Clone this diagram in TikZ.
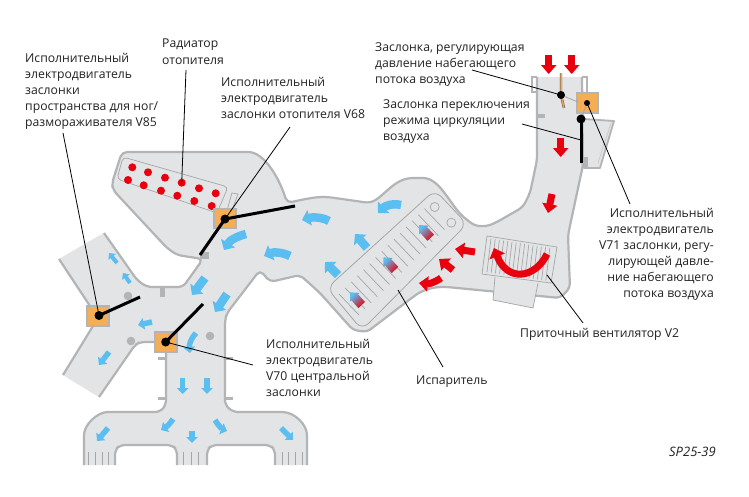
\documentclass[tikz,border=0pt]{standalone}
\usepackage{fontspec}
\setmainfont{Open Sans}
\usetikzlibrary{arrows.meta}
\definecolor{duct}{HTML}{E3E4E6}
\definecolor{edge}{HTML}{B2B4B6}
\definecolor{finc}{HTML}{A4A6A8}
\definecolor{org}{HTML}{F6AE55}
\definecolor{rd}{HTML}{E8000F}
\definecolor{bl}{HTML}{5BBEF0}
\definecolor{gmid}{HTML}{E0B0A8}
\definecolor{txt}{HTML}{222222}
\tikzset{
 lab/.style={inner sep=0pt,font=\fontsize{12.2}{16.1}\selectfont,text=txt,align=left,anchor=north west},
 labr/.style={lab,align=right,anchor=north east},
 leader/.style={draw=black,line width=0.8pt},
 lever/.style={draw=black,line width=3pt},
 pivot/.style={fill=black},
 boxo/.style={fill=org,draw=edge,line width=1.2pt},
 wall/.style={draw=edge,line width=2.2pt,rounded corners=5pt,line join=round},
 fin/.style={draw=finc,line width=0.7pt},
 redar/.style={draw=rd,line width=7pt,-{Triangle[width=15pt,length=9pt]}},
 blbig/.style={draw=bl,line width=8.5pt,-{Triangle[width=16pt,length=8pt]}},
 blmid/.style={draw=bl,line width=5.5pt,-{Triangle[width=11.5pt,length=6pt]}},
 blsm/.style={draw=bl,line width=4pt,-{Triangle[width=9pt,length=5pt]}},
 gradar/.style={top color=bl,middle color=gmid,bottom color=rd,shading angle=45},
}
\def\segA{(104,233) -- (137,280) -- (147,287) -- (183,287) -- (203,259) -- (177,255) -- (167,248) -- (113,190) -- (112,183) -- (122,152) -- (243,152) .. controls (265,152) and (280,180) .. (287,203) .. controls (305,199) and (315,197) .. (328,197) -- (370,203) .. controls (385,195) and (395,178) .. (418,178) .. controls (440,178) and (450,205) .. (467,220) .. controls (478,228) and (488,226) .. (497,222) -- (523,207) -- (530,193) -- (537,160) -- (537,77)}
\def\segB{(582,77) -- (583,165) -- (568,235) -- (570,288) -- (560,298) -- (447,287) .. controls (430,287) and (420,292) .. (413,297) -- (367,332) -- (353,330) -- (320,293) -- (300,275) -- (270,282) -- (260,270) -- (227,313) -- (225,320) -- (225,405) -- (233,412) -- (277,412) .. controls (295,412) and (307,425) .. (307,440) -- (307,465)}
\def\segC{(275,465) -- (275,450) -- (270,445) -- (212,445) -- (207,450) -- (207,465)}
\def\segD{(177,465) -- (177,450) -- (172,445) -- (120,445) -- (115,450) -- (115,465)}
\def\segE{(84,465) -- (84,440) .. controls (84,425) and (97,412) .. (113,412) -- (160,412) -- (166,405) -- (166,342) -- (140,342) -- (135,345) -- (99,397)}
\def\segF{(63,375) -- (93,326)}
\def\segG{(90,306) -- (59,259)}
\begin{document}
\begin{tikzpicture}[x=1pt,y=-1pt]
\useasboundingbox (0,0) rectangle (749,496);
\fill[white] (0,0) rectangle (749,496);
% duct fill
\fill[duct,rounded corners=5pt] \segA -- \segB -- \segC -- \segD -- \segE -- (63,375) -- (93,326) -- (90,306) -- (59,259) -- cycle;
% sharp open ends
\fill[duct] (59,259) -- (104,233) -- (125,262) -- (90,306) -- cycle;
\fill[duct] (63,375) -- (99,397) -- (115,372) -- (86,345) -- cycle;
\fill[duct] (537,77) rectangle (582,90);
\fill[duct] (84,455) rectangle (115,465);
\fill[duct] (177,455) rectangle (207,465);
\fill[duct] (275,455) rectangle (307,465);
% side box of the upper duct
\filldraw[fill=duct,draw=edge,line width=1.8pt,line join=round] (584,119) -- (614,121) -- (600,168) -- (584,168) -- (584,157);
\draw[draw=edge!70,line width=0.8pt] (611,123) -- (598,163);
\fill[edge] (583,157) rectangle (588,168);
% walls
\draw[wall] \segA;
\draw[wall] \segB;
\draw[wall] \segC;
\draw[wall] \segD;
\draw[wall] \segE;
\draw[wall] \segF;
\draw[wall] \segG;
% lips and tabs
\draw[edge,line width=1.2pt] (537,92) -- (532,92) -- (532,77) -- (537,77);
\draw[edge,line width=1.2pt] (582,77) -- (587,77) -- (587,93);
\fill[edge] (537,114) rectangle (545,118);
\fill[edge] (200,252) rectangle (209,259);
\fill[edge] (160,288) rectangle (165,297);
\foreach \x/\y in {158/357,158/397,225/357,225/397}
  \fill[edge] (\x,\y) rectangle ++(8,3);
\foreach \x/\y in {128/296,131/341,210/336}
  \fill[edge] (\x,\y) circle (4.3);
% outlet grilles
\foreach \x in {88,95,102,108,183,191,198,282,288,295,302}
  \draw[finc,line width=0.7pt] (\x,452) -- (\x,465);
% radiator
\draw[finc,line width=0.7pt,rounded corners=4pt] (123,157) -- (228,187) -- (217,213) -- (117,179) -- cycle;
\draw[finc,line width=0.7pt] (232,193) -- (238,194) -- (230,215) -- (226,214) -- cycle;
\foreach \x/\y in {132.3/167.3,148/172.3,165/177.7,181.7/182.7,199/188.3,215.7/193.3,128/180,143.7/185.3,161/190.7,177.3/195.7,194.3/201,211.7/206}
  \fill[rd] (\x,\y) circle (4);
% evaporator
\draw[finc,line width=0.8pt,rounded corners=9pt] (435,190) -- (467,224) -- (362,330) -- (327,288) -- cycle;
\foreach \t in {0,...,14}
  \draw[fin] ({339+\t*6.1},{294-\t*6.1}) -- ++(20,21);
\draw[finc,fill=duct,line width=0.7pt] (434.7,207) circle (4.5);
\draw[finc,fill=duct,line width=0.7pt] (451.3,222.7) circle (4.5);
% gradient arrows
\foreach \a/\b in {430.7/237.7,395/270,361.7/305}{
  \shade[gradar] (\a+3.3,\b-3.1) -- (\a-3.7,\b-10.7) -- (\a-2.3,\b-12.1) -- (\a-11.7,\b-12.7) -- (\a-11.7,\b-3.3) -- (\a-10.3,\b-4.7) -- (\a-3.3,\b+3.1) -- cycle;}
% fan
\draw[finc,fill=duct,line width=0.7pt] (495,277) -- (493,300) -- (533,308) -- (538,283);
\draw[finc,fill=duct,line width=0.7pt] (487,236) -- (557,247) -- (551,283) -- (482,274) -- cycle;
\foreach \t in {0,...,14}
  \draw[fin] ({491+\t*4.2},{238.5+\t*0.68}) -- ({487+\t*4.2},{272+\t*0.62});
% red arrows
\draw[redar] (548.7,55) -- (548.7,74);
\draw[redar] (571.7,55) -- (571.7,74);
\draw[redar] (560.7,138) -- (560.7,157);
\draw[redar] (552,194) -- (548,213);
\draw[redar] (475,252) -- (455,249);
\draw[redar] (453,270) -- (439,259);
\draw[redar] (441,278) .. controls (434,283) and (428,284) .. (419,283);
\draw[draw=rd,line width=7pt,-{Triangle[width=16pt,length=9pt]}] (547,254) .. controls (535,279) and (507,282) .. (494,248);
% blue arrows
\draw[blbig] (401,205) .. controls (392,203) and (385,206) .. (378,213);
\draw[blbig] (367,248) -- (355,234);
\draw[blbig] (338,275) -- (325,262);
\draw[blbig] (329,221) .. controls (322,217) and (312,217) .. (302,220);
\draw[blbig] (290,256) .. controls (282,252) and (273,252) .. (264,256);
\draw[blbig] (246,234) .. controls (238,236) and (230,240) .. (224,250);
\draw[blbig] (205,278) -- (192,295);
\draw[blbig] (227,294) -- (215,312);
\draw[blmid] (152,322) -- (138,325);
\draw[blsm] (117,263) -- (109,253);
\draw[blsm] (130,283) -- (123,273);
\draw[blmid] (109,352) -- (99,365);
\draw[blmid] (196,333) .. controls (191,338) and (189,345) .. (190,353);
\draw[blmid] (182.7,378) -- (182.7,394);
\draw[blmid] (207,378) -- (207,394);
\draw[blmid] (173,419) .. controls (170,424) and (166,427) .. (161,430);
\draw[blmid] (215,420) .. controls (218,425) and (222,429) .. (227,431);
\draw[blmid] (192,431) -- (192,443);
\draw[blmid] (108,428) -- (97,441);
\draw[blmid] (281,428) -- (293,440);
% actuators
\draw[boxo] (214,209) rectangle (236,228);
\draw[boxo] (87,306) rectangle (109,326);
\draw[boxo] (155,332) rectangle (177,352);
\draw[boxo] (577,93) rectangle (598,113);
% flap
\draw[draw=black!70,line width=2.4pt] (561,73) -- (561,95) -- (564,108);
\draw[draw=org!85!brown,line width=1.5pt] (561,73) -- (561,95) -- (564,108);
\draw[finc,line width=0.8pt] (561,95) -- (578,102);
\draw[finc,line width=0.8pt] (587,103) -- (581,119);
% coordinates and levers
\coordinate (pHeat) at (225,219);
\coordinate (pFoot) at (99,315.5);
\coordinate (pCentre) at (165.7,342);
\coordinate (pFlap) at (561,95);
\coordinate (pV71) at (587,103);
\coordinate (pCirc) at (581,119);
\coordinate (eHeatA) at (295,206);
\coordinate (eHeatB) at (200,255);
\coordinate (eFoot) at (140,297);
\coordinate (eCentre) at (203,304);
\coordinate (eCirc) at (581,163);
\coordinate (mCirc) at (581,140);
\coordinate (mRad) at (181.7,182.7);
\coordinate (mEvap) at (398,290);
\coordinate (mFan) at (547,275);
\draw[lever] (pHeat) -- (eHeatA);
\draw[lever] (pHeat) -- (eHeatB);
\draw[lever] (pFoot) -- (eFoot);
\draw[lever] (pCentre) -- (eCentre);
\draw[lever] (pCirc) -- (eCirc);
\foreach \p/\r in {pHeat/4.5,pFoot/4.5,pCentre/4.5,pFlap/4,pV71/3,pCirc/4.5}
  \fill[pivot] (\p) circle (\r);
% labels
\node[lab] (tV85) at (25,53) {Исполнительный\\электродвигатель\\заслонки\\пространства для ног/\\размораживателя V85};
\node[lab] (tRad) at (162,39) {Радиатор\\отопителя};
\node[lab] (tV68) at (221,77) {Исполнительный\\электродвигатель\\заслонки отопителя V68};
\node[lab] (tFlap) at (375,42) {Заслонка, регулирующая\\давление набегающего\\потока воздуха};
\node[lab] (tCirc) at (383,99) {Заслонка переключения\\режима циркуляции\\воздуха};
\node[labr] (tV71) at (714,208) {Исполнительный\\электродвигатель\\V71 заслонки, регу-\\лирующей давле-\\ние набегающего\\потока воздуха};
\node[lab] (tFan) at (520,328) {Приточный вентилятор V2};
\node[lab] (tEvap) at (416,376) {Испаритель};
\node[lab] (tV70) at (266,339) {Исполнительный\\электродвигатель\\V70 центральной\\заслонки};
\node[labr,font=\fontsize{13}{14}\selectfont\itshape] (tSP) at (716,447) {SP25-39};
% leaders
\coordinate (lV85) at (63,133);
\coordinate (lRad) at (186,70);
\coordinate (lV68) at (290,127);
\coordinate (lFlap) at (472,70);
\coordinate (lCirc) at (522,124);
\coordinate (lV71) at (630,204);
\coordinate (lV70) at (253,365);
\coordinate (lFan) at (583,323);
\coordinate (lEvap) at (443,367);
\draw[leader] (lV85) -- (pFoot);
\draw[leader] (lRad) -- (mRad);
\draw[leader] (lV68) -- (pHeat);
\draw[leader] (lFlap) -- (pFlap);
\draw[leader] (lCirc) -- (mCirc);
\draw[leader] (lV71) -- (pV71);
\draw[leader] (lV70) -- (pCentre);
\draw[leader] (lFan) -- (mFan);
\draw[leader] (lEvap) -- (mEvap);
\end{tikzpicture}
\end{document}
